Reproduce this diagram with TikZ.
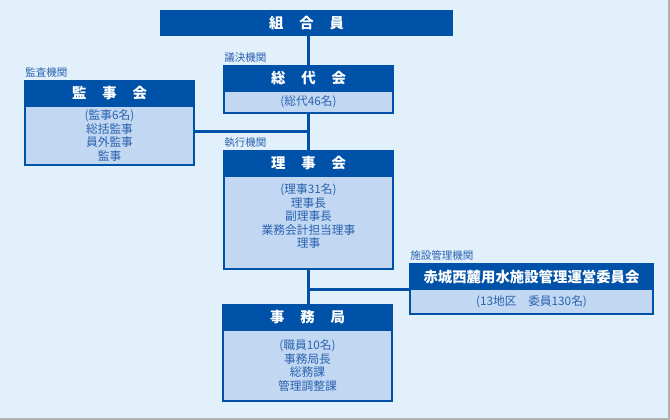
\documentclass[tikz,border=0pt]{standalone}
\usepackage{fontspec}
\setmainfont{Noto Sans CJK JP}
\usetikzlibrary{positioning}
\definecolor{orgblue}{HTML}{0052A8}
\definecolor{orgfill}{HTML}{C2D8F2}
\definecolor{orgtext}{HTML}{2A62B0}
\definecolor{pagebg}{HTML}{E2F0FC}

\begin{document}
\begin{tikzpicture}[
    x=0.75pt, y=-0.75pt,
    head/.style  = {draw=orgblue, fill=orgblue, line width=1.5pt, text=white,
                    font=\fontsize{10.8}{12}\selectfont\bfseries,
                    minimum width=#1, minimum height=18.75pt,
                    inner sep=0pt, outer sep=0pt, anchor=north west},
    head/.default = 126.75pt,
    body/.style  = {draw=orgblue, fill=orgfill, line width=1.5pt, text=orgtext,
                    font=\fontsize{8.8}{10.2}\selectfont, align=center,
                    minimum width=#1, inner sep=0pt, outer sep=0pt},
    body/.default = 126.75pt,
    role/.style  = {font=\fontsize{7.9}{9}\selectfont, text=orgtext,
                    inner sep=0pt, anchor=south west},
    link/.style  = {draw=orgblue, line width=2.25pt},
]

% fixed canvas, same size as the reference
\useasboundingbox (0,0) rectangle (670,420);
\fill[pagebg] (0,0) rectangle (670,420);
\draw[black!30, line width=1pt] (669,0) -- (669,419) -- (0,419);

% --- members -----------------------------------------------------------
\node[head=218.25pt, minimum height=18pt] (kumiai) at (161,11)
      {組\hspace{1.1em}合\hspace{1.1em}員};

% --- assembly of representatives --------------------------------------
\node[head] (soudai) at (224,66) {総\hspace{1.1em}代\hspace{1.1em}会};
\node[body, minimum height=16.5pt, below=0pt of soudai] (soudaib) {(総代46名)};
\node[role] (soudaitag) at (224,63) {議決機関};

% --- auditors -----------------------------------------------------------
\node[head] (kanji) at (25,81) {監\hspace{1.1em}事\hspace{1.1em}会};
\node[body, minimum height=44.25pt, below=0pt of kanji] (kanjib)
      {(監事6名)\\総括監事\\員外監事\\監事};
\node[role] (kanjitag) at (25,78) {監査機関};

% --- board of directors -------------------------------------------------
\node[head] (riji) at (224,151) {理\hspace{1.1em}事\hspace{1.1em}会};
\node[body, minimum height=69.75pt, below=0pt of riji] (rijib)
      {(理事31名)\\理事長\\副理事長\\業務会計担当理事\\理事\\\mbox{}};
\node[role] (rijitag) at (224,148) {執行機関};

% --- secretariat --------------------------------------------------------
\node[head] (jimu) at (223,305) {事\hspace{1.1em}務\hspace{1.1em}局};
\node[body, minimum height=53.25pt, below=0pt of jimu] (jimub)
      {(職員10名)\\事務局長\\総務課\\管理調整課};

% --- facility committee -------------------------------------------------
\node[head=182.25pt] (akagi) at (410,264) {赤城西麓用水施設管理運営委員会};
\node[body=182.25pt, minimum height=18.75pt, below=0pt of akagi] (akagib)
      {(13地区　委員130名)};
\node[role] (akagitag) at (410,261) {施設管理機関};

% --- connectors ---------------------------------------------------------
\coordinate (kanjun) at (soudaib.south |- 0,132);
\coordinate (rijun)  at (rijib.south |- akagi.south);
\draw[link] (kumiai.south -| soudai.north) -- (soudai.north);
\draw[link] (soudaib.south) -- (riji.north);
\draw[link] (kanjib.east |- kanjun) -- (kanjun);
\draw[link] (rijib.south) -- (jimu.north -| rijib.south);
\draw[link] (rijun) -- (akagi.south west);

\end{tikzpicture}
\end{document}
